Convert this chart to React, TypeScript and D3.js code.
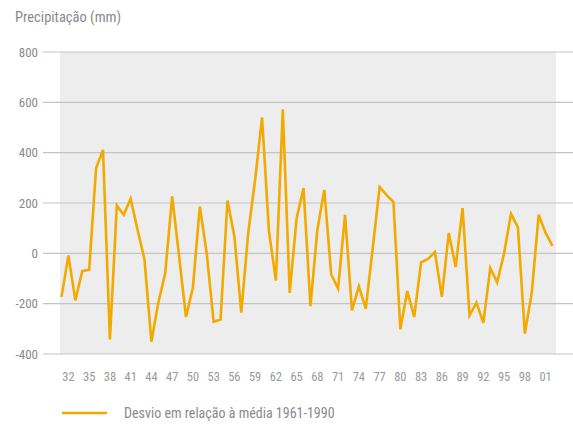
import * as d3 from "d3";

const width = 573;
const height = 425;

const startYear = 1931;
// desvio em relação à média 1961-1990 (mm), 1931..2002
const deviation = [
  -173, -8, -187, -71, -65, 338, 411, -342, 190, 153,
  217, 94, -25, -351, -196, -78, 226, -10, -253, -137,
  186, 0, -272, -263, 210, 67, -236, 81, 292, 540,
  87, -108, 572, -157, 140, 259, -210, 94, 252, -84,
  -140, 153, -227, -131, -220, 20, 263, 232, 204, -302,
  -150, -253, -36, -22, 5, -173, 81, -54, 180, -247,
  -196, -276, -58, -115, 0, 157, 103, -319, -157, 153,
  81, 30,
];
const years = deviation.map((_, i) => startYear + i);
const xTicks = d3.range(1932, 2002, 3);
const yTicks = [-400, -200, 0, 200, 400, 600, 800];

const font = "'Liberation Sans Narrow', 'Roboto Condensed', Roboto, sans-serif";

function App() {
  const x = d3.scaleLinear().domain([1931, 2002]).range([61.5, 552.5]);
  const y = d3.scaleLinear().domain([-400, 800]).range([354, 52]);

  const line = d3
    .line<number>()
    .x((_, i) => x(years[i]))
    .y((d) => y(d));

  return (
    <svg
      width={width}
      height={height}
      style={{ position: "absolute", left: 0, top: 0 }}
    >
      <rect x={0} y={0} width={width} height={height} fill="#fff" />
      <text x={15} y={22} fontFamily={font} fontSize={14.5} fill="#8a8a8a">
        Precipitação (mm)
      </text>
      <rect x={60} y={y(800)} width={496} height={y(-400) - y(800)} fill="#ededed" />
      {yTicks.map((t) => (
        <g key={t}>
          <line x1={43} x2={573} y1={y(t)} y2={y(t)} stroke="#c4c4c4" strokeWidth={1.2} />
          <text
            x={38}
            y={y(t) + 4.5}
            textAnchor="end"
            fontFamily={font}
            fontSize={13}
            fill="#8a8a8a"
          >
            {t}
          </text>
        </g>
      ))}
      {xTicks.map((t) => (
        <text
          key={t}
          x={x(t)}
          y={381}
          textAnchor="middle"
          fontFamily={font}
          fontSize={12.5}
          fill="#9a9a9a"
        >
          {d3.format("02d")(t % 100)}
        </text>
      ))}
      <path
        d={line(deviation) ?? ""}
        fill="none"
        stroke="#f2aa00"
        strokeWidth={2.6}
        strokeLinejoin="miter"
      />
      <line x1={62} x2={107} y1={413} y2={413} stroke="#f2aa00" strokeWidth={2.6} />
      <text x={124} y={418} fontFamily={font} fontSize={14} fill="#8a8a8a">
        Desvio em relação à média 1961-1990
      </text>
    </svg>
  );
}

export default App;
